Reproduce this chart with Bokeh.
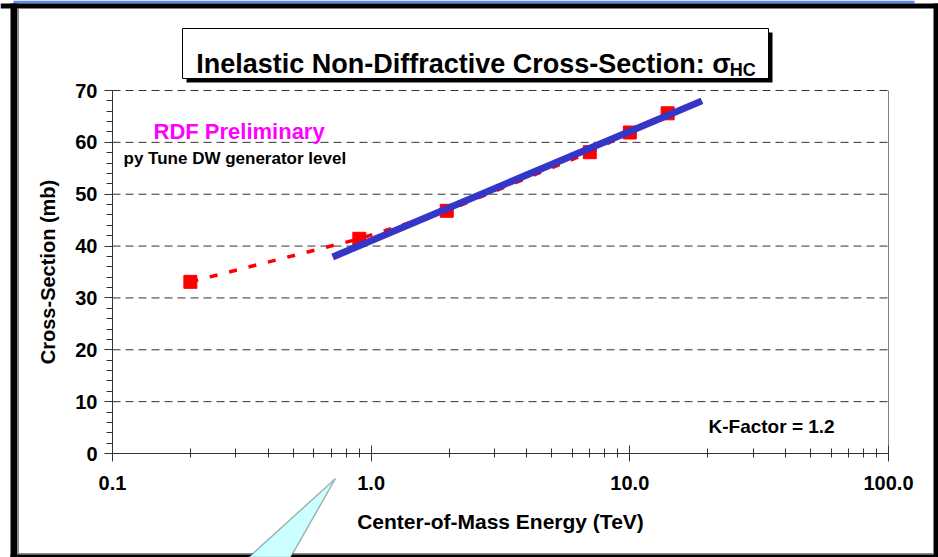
from bokeh.plotting import figure
from bokeh.models import (Range1d, FixedTicker, BoxAnnotation, PolyAnnotation, Label,
                          NumeralTickFormatter)
from bokeh.embed import file_html
from bokeh.resources import INLINE

# ---- data ----
energy_tev = [0.2, 0.9, 1.96, 7.0, 10.0, 14.0]
sigma_hc_mb = [33.1, 41.4, 46.8, 58.1, 61.9, 65.6]
fit_energy_tev = [0.71, 19.0]
fit_sigma_mb = [37.9, 68.0]

x_tick_values = [0.1, 1.0, 10.0, 100.0]
x_tick_labels = ["0.1", "1.0", "10.0", "100.0"]
x_minor_ticks = [0.2, 0.3, 0.4, 0.5, 0.6, 0.7, 0.8, 0.9,
                 2, 3, 4, 5, 6, 7, 8, 9,
                 20, 30, 40, 50, 60, 70, 80, 90]
y_tick_values = [0, 10, 20, 30, 40, 50, 60, 70]
y_grid_values = [10, 20, 30, 40, 50, 60, 70]
y_minor_ticks = [0, 2, 4, 6, 8, 10, 12, 14, 16, 18, 20, 22, 24, 26, 28, 30, 32, 34,
                 36, 38, 40, 42, 44, 46, 48, 50, 52, 54, 56, 58, 60, 62, 64, 66, 68, 70]
x_min, x_max = 0.1, 100.0
y_min, y_max = 0.0, 70.0

title_main = "Inelastic Non-Diffractive Cross-Section: σ"
title_sub = "HC"
y_label = "Cross-Section (mb)"
x_label = "Center-of-Mass Energy (TeV)"

FONT = "Liberation Sans"

# ---- page geometry (pixels) ----
W_PX, H_PX = 938, 557
PL, PR, PT, PB = 112, 888, 90, 453          # plot-area edges on the page
decade = (PR - PL) / 3.0
ppu = (PB - PT) / (y_max - y_min)
xr = Range1d(10 ** (-1 - PL / decade), 10 ** (2 + (W_PX - PR) / decade))
yr = Range1d(y_min - (H_PX - PB) / ppu, y_max + PT / ppu)

p = figure(width=W_PX, height=H_PX, x_axis_type="log", x_range=xr, y_range=yr,
           output_backend="svg", toolbar_location=None,
           min_border=0, min_border_left=0, min_border_right=0,
           min_border_top=0, min_border_bottom=0,
           background_fill_color="white", border_fill_color="white",
           outline_line_color=None)
p.title.visible = False
p.xgrid.visible = False
p.ygrid.visible = False

# ---- axes (fixed at the plot-area edges) ----
xa = p.xaxis[0]
xa.fixed_location = y_min
xa.bounds = (x_min, x_max)
xa.ticker = FixedTicker(ticks=x_tick_values, minor_ticks=x_minor_ticks)
xa.formatter = NumeralTickFormatter(format="0.0")
xa.major_label_overrides = dict(zip(x_tick_values, x_tick_labels))
xa.major_tick_in = 8
xa.major_tick_out = 8
xa.minor_tick_in = 5
xa.minor_tick_out = 4
xa.major_label_standoff = 14
xa.axis_label = x_label
xa.axis_label_standoff = 17

ya = p.yaxis[0]
ya.fixed_location = x_min
ya.bounds = (y_min, y_max)
ya.ticker = FixedTicker(ticks=y_tick_values, minor_ticks=y_minor_ticks)
ya.major_tick_in = 0
ya.major_tick_out = 8
ya.minor_tick_in = 0
ya.minor_tick_out = 6
ya.major_label_standoff = 7
ya.axis_label = y_label
ya.axis_label_standoff = 13

for ax in (xa, ya):
    ax.axis_line_color = "#333333"
    ax.major_tick_line_color = "#333333"
    ax.minor_tick_line_color = "#333333"
    ax.major_label_text_font = FONT
    ax.major_label_text_font_style = "bold"
    ax.major_label_text_font_size = "20px"
    ax.major_label_text_color = "black"
    ax.axis_label_text_font = FONT
    ax.axis_label_text_font_style = "bold"
    ax.axis_label_text_font_size = "20px"
    ax.axis_label_text_color = "black"
xa.axis_label_text_font_size = "21px"

# ---- grid lines and right edge of the plot area ----
n = len(y_grid_values)
p.segment(x0=[x_min] * n, x1=[x_max] * n, y0=y_grid_values, y1=y_grid_values,
          line_color="#333333", line_width=1, line_dash="8 5")
p.segment(x0=[x_max], x1=[x_max], y0=[y_min], y1=[y_max], line_color="#808080", line_width=1)

# ---- data glyphs ----
p.line(energy_tev, sigma_hc_mb, line_color="#FF0000", line_width=3.5, line_dash="8 12")
p.scatter(energy_tev, sigma_hc_mb, marker="square", size=13,
          fill_color="#FF0000", line_color="#FF0000")
p.line(fit_energy_tev, fit_sigma_mb, line_color="#3535C8", line_width=7)

# ---- in-plot texts ----
def label(x, y, text, size, color="black", align="left"):
    return Label(x=x, y=y, x_units="canvas", y_units="canvas", text=text,
                 text_font=FONT, text_font_style="bold", text_font_size=size,
                 text_color=color, text_baseline="alphabetic", text_align=align)

p.add_layout(label(153, 131, "RDF Preliminary", "22px", "#FF00FF"))
p.add_layout(label(123, 158, "py Tune DW generator level", "17px"))
p.add_layout(label(708, 426, "K-Factor = 1.2", "19px"))

# ---- slide frame decorations ----
def box(l, r, t, b, fill, line=None, lw=1):
    return BoxAnnotation(left=l, right=r, top=t, bottom=b,
                         left_units="canvas", right_units="canvas",
                         top_units="canvas", bottom_units="canvas",
                         fill_color=fill, fill_alpha=1,
                         line_color=line if line else "black", line_width=lw,
                         line_alpha=1 if line else 0)

p.add_layout(box(13, 914, 0, 3, "#5A8CF0"))
p.add_layout(box(0, 938, 3, 8, "black"))
p.add_layout(box(10, 17, 3, 557, "black"))
p.add_layout(box(17, 18.5, 8, 554, "#8C8C8C"))
p.add_layout(box(933, 938, 3, 557, "black"))
p.add_layout(box(17, 933, 552.5, 554, "#8C8C8C"))
p.add_layout(box(10, 938, 554, 557, "black"))

# title box with shadow
p.add_layout(box(186, 772, 32, 82, "black"))
p.add_layout(box(182, 768, 28, 78, "white", "black", 1))

# Liberation Sans bold advance widths (per em), used to centre the title in its box
ADV = {"I": .278, "n": .611, "e": .556, "l": .278, "a": .556, "s": .556, "t": .333, "i": .278,
       "c": .556, " ": .278, "N": .722, "o": .611, "-": .333, "D": .722, "f": .333, "r": .389,
       "v": .556, "C": .722, "S": .667, ":": .333, "σ": .61, "H": .722}
main_px, sub_px = 27, 18
w_main = sum(ADV.get(ch, .6) for ch in title_main) * main_px
w_sub = sum(ADV.get(ch, .6) for ch in title_sub) * sub_px
x0 = 475 - (w_main + w_sub) / 2
p.add_layout(label(x0, 63, title_main, f"{main_px}px"))
p.add_layout(label(x0 + w_main + 1, 69, title_sub, f"{sub_px}px"))

# callout pointer
p.add_layout(PolyAnnotation(xs=[335, 248, 290], ys=[478, 557, 557],
                            xs_units="canvas", ys_units="canvas",
                            fill_color="#CCFFFF", fill_alpha=1,
                            line_color="black", line_width=1.5))

open("out.html", "w").write(file_html(p, INLINE))
